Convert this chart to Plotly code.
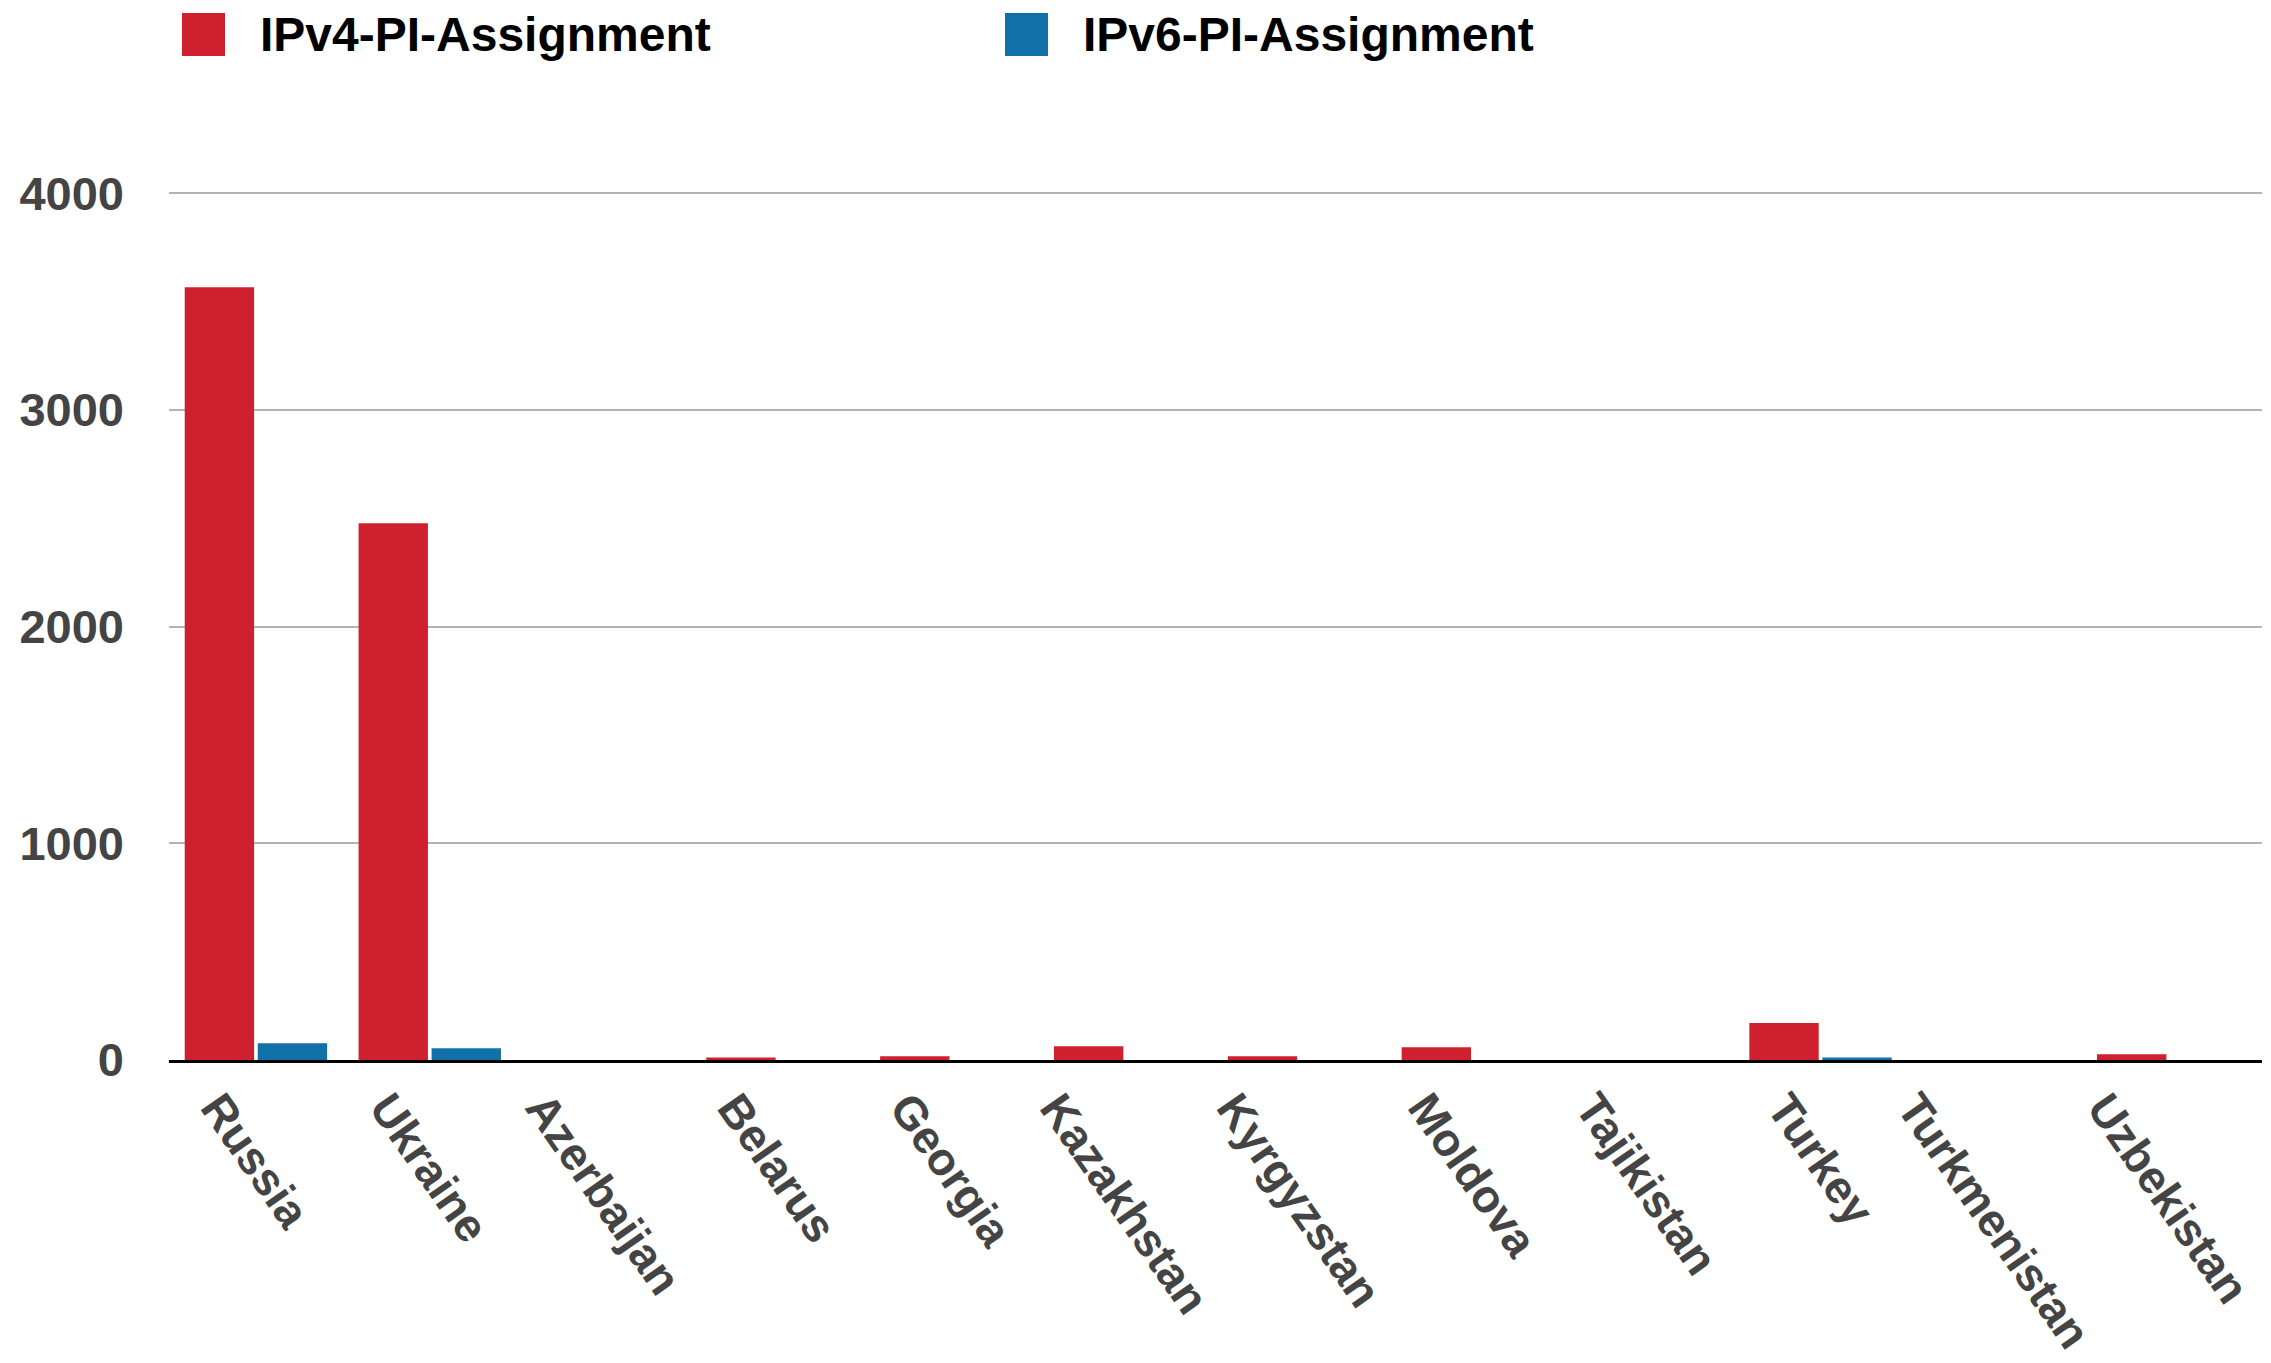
import plotly.graph_objects as go

# PI assignments per country
countries = ["Russia", "Ukraine", "Azerbaijan", "Belarus", "Georgia", "Kazakhstan",
             "Kyrgyzstan", "Moldova", "Tajikistan", "Turkey", "Turkmenistan", "Uzbekistan"]
ipv4_pi = [3566, 2477, 0, 12, 17, 63, 17, 59, 0, 171, 0, 26]
ipv6_pi = [77, 54, 0, 0, 0, 0, 0, 0, 0, 12, 0, 0]

series_names = ["IPv4-PI-Assignment", "IPv6-PI-Assignment"]
RED = "#CE202F"
BLUE = "#1070A8"
GREY_TXT = "#444444"
FONT = "Liberation Sans"

# the html body has an 8px margin, so the figure is made 8px smaller
OFF = 8
W, H = 2271 - OFF, 1363 - OFF
L, R, T, B = 169 - OFF, 9, 189 - OFF, 303
pw, ph = W - L - R, H - T - B

fig = go.Figure()
fig.add_trace(go.Bar(x=countries, y=ipv4_pi, name=series_names[0], marker_color=RED,
                     marker_line_width=0))
fig.add_trace(go.Bar(x=countries, y=ipv6_pi, name=series_names[1], marker_color=BLUE,
                     marker_line_width=0))

# legend drawn by hand so the swatches can be as big as in the original
legend_items = [(series_names[0], RED, 182, 258), (series_names[1], BLUE, 1005, 1081)]
for name, col, sx, tx in legend_items:
    fig.add_shape(type="rect", xref="paper", yref="paper",
                  x0=(sx - OFF - L) / pw, x1=(sx + 43 - OFF - L) / pw,
                  y0=(H - B - (56 - OFF)) / ph, y1=(H - B - (13 - OFF)) / ph,
                  fillcolor=col, line_width=0)
    fig.add_annotation(text="<b>%s</b>" % name, xref="paper", yref="paper",
                       x=(tx - OFF - L) / pw, y=(H - B - (34 - OFF)) / ph,
                       xanchor="left", yanchor="middle", showarrow=False,
                       font=dict(family=FONT, size=48, color="#000000"))

# slanted category labels, centred under each group like the original
for c in countries:
    fig.add_annotation(text="<b>%s</b>" % c, x=c, y=0, xref="x", yref="y",
                       textangle=55, xanchor="center", yanchor="top",
                       yshift=-21, showarrow=False,
                       font=dict(family=FONT, size=46, color=GREY_TXT))

fig.update_layout(
    width=W, height=H,
    margin=dict(l=L, r=R, t=T, b=B),
    plot_bgcolor="white", paper_bgcolor="white",
    barmode="group", bargap=0.16, bargroupgap=0.05,
    showlegend=False,
    font=dict(family=FONT, size=46, color=GREY_TXT),
)
fig.update_xaxes(
    showticklabels=False,
    showline=True, linecolor="black", linewidth=3, showgrid=False, ticks="",
    automargin=False,
)
fig.update_yaxes(
    range=[0, 4020], tickvals=[0, 1000, 2000, 3000, 4000],
    tickfont=dict(family=FONT, size=47, color=GREY_TXT, weight="bold"),
    showgrid=True, gridcolor="#B4B4B4", gridwidth=2, zeroline=False,
    ticklabelstandoff=44, automargin=False,
)

fig.write_html("out.html")
